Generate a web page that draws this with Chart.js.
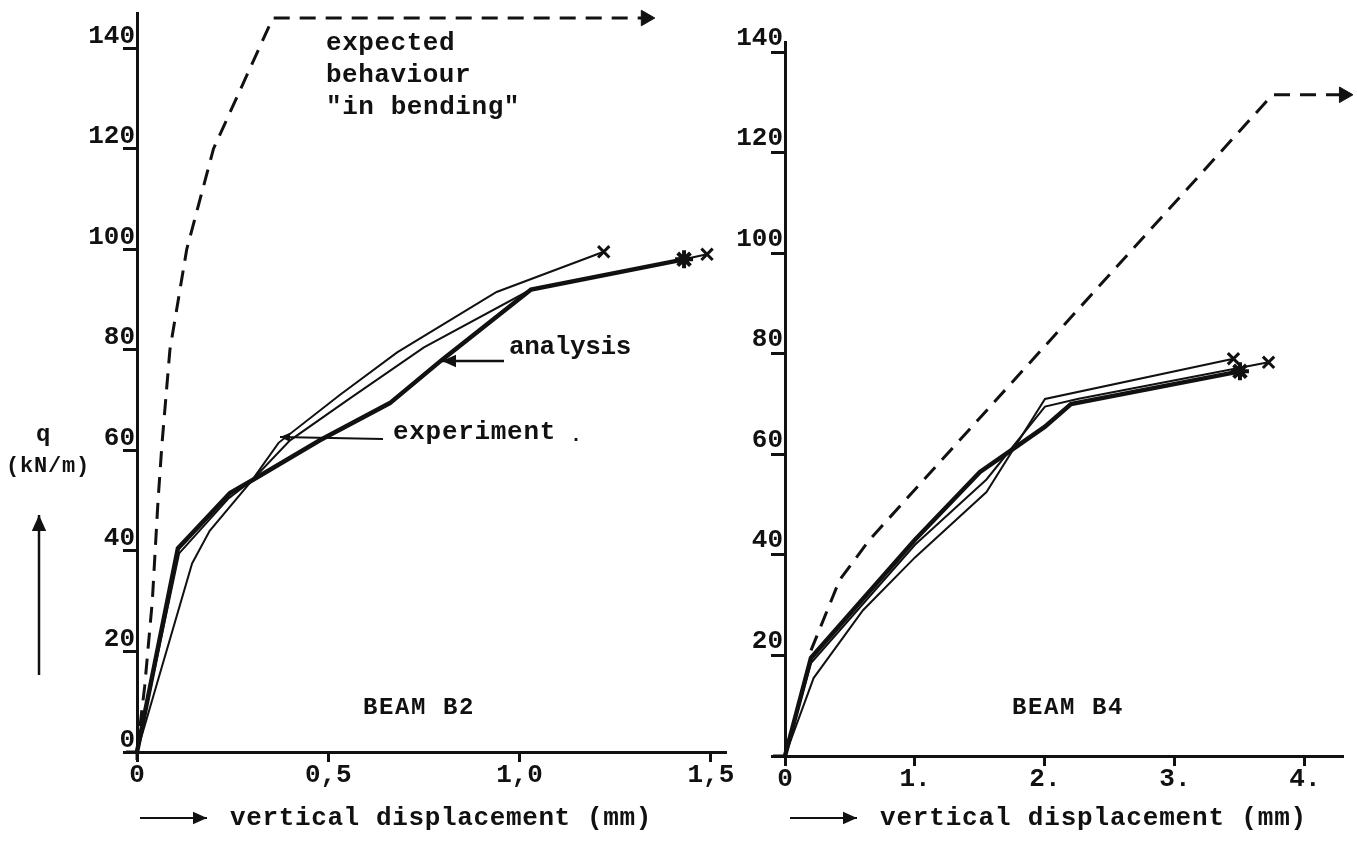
<!DOCTYPE html>
<html>
<head>
<meta charset="utf-8">
<script src="https://cdn.jsdelivr.net/npm/chart.js@4.4.0/dist/chart.umd.min.js"></script>
<style>
  html, body { margin: 0; padding: 0; background: #fff; }
  body { width: 1357px; height: 850px; position: relative; overflow: hidden; }
  canvas { position: absolute; top: 0; }
  #b2 { left: 0; }
  #b4 { left: 700px; }
</style>
</head>
<body>
<canvas id="b2"></canvas>
<canvas id="b4"></canvas>
<script>
// ---- BEAM B2 : q (kN/m) against vertical displacement (mm) ----
const B2_X_TICKS = [0, 0.5, 1.0, 1.5];
const B2_X_LABELS = ['0', '0,5', '1,0', '1,5'];
const B2_Y_TICKS = [0, 20, 40, 60, 80, 100, 120, 140];
const B2_Y_LABELS = ['0', '20', '40', '60', '80', '100', '120', '140'];

const B2_EXPECTED = [[0, 0], [0.02, 13], [0.04, 30], [0.055, 50], [0.065, 61], [0.086, 80],
                     [0.13, 100], [0.2, 120], [0.355, 146], [1.33, 146]];
const B2_EXPERIMENT_1 = [[0, 0], [0.144, 37.5], [0.19, 44], [0.3, 54], [0.37, 61.5], [0.53, 71],
                         [0.68, 79.5], [0.94, 91.5], [1.22, 99.5]];
const B2_EXPERIMENT_2 = [[0, 0], [0.11, 39.5], [0.24, 50.5], [0.3, 54], [0.4, 62], [0.55, 70],
                         [0.75, 80.5], [1.03, 92], [1.43, 98], [1.49, 99]];
const B2_ANALYSIS = [[0, 0], [0.107, 40.5], [0.243, 51.5], [0.3, 54], [0.478, 62], [0.661, 69.4],
                     [0.797, 78], [1.03, 92], [1.43, 98]];

// ---- BEAM B4 ----
const B4_X_TICKS = [0, 1, 2, 3, 4];
const B4_X_LABELS = ['0', '1.', '2.', '3.', '4.'];
const B4_Y_TICKS = [0, 20, 40, 60, 80, 100, 120, 140];
const B4_Y_LABELS = ['', '20', '40', '60', '80', '100', '120', '140'];

const B4_EXPECTED = [[0.2, 21], [0.42, 35], [0.65, 43], [3.75, 131.5], [4.3, 131.5]];
const B4_EXPERIMENT_1 = [[0, 0], [0.22, 15.5], [0.6, 29], [1.0, 39.5], [1.55, 52.5], [2.0, 71], [3.45, 79]];
const B4_EXPERIMENT_2 = [[0, 0], [0.2, 18.5], [1.0, 42], [1.55, 55], [2.0, 69.5], [2.25, 71], [3.72, 78.3]];
const B4_ANALYSIS = [[0, 0], [0.2, 19.5], [1.0, 43], [1.5, 56.5], [1.75, 61], [2.0, 65.5], [2.2, 70], [3.5, 76.5]];

const FONT = "'Liberation Mono', 'Courier New', monospace";
const INK = '#111';

// Build a line dataset; only the last point gets a marker
function series(pts, width, opts = {}) {
    const last = pts.length - 1;
    return {
        data: pts.map(([x, y]) => ({ x, y })),
        borderColor: INK,
        backgroundColor: INK,
        borderWidth: width,
        borderDash: opts.dash || [],
        pointStyle: opts.marker || 'circle',
        pointRadius: pts.map((_, i) => (opts.marker && i === last ? opts.size || 8 : 0)),
        pointBorderWidth: opts.markerWidth || 2.5,
        pointRotation: opts.rotation || 0,
        tension: 0,
        fill: false,
        clip: false
    };
}

// Free text, pointer arrows and axis stubs drawn on top of each chart
function drawNotes(ctx, notes) {
    ctx.save();
    ctx.fillStyle = INK;
    ctx.strokeStyle = INK;
    notes.forEach(n => {
        if (n.text) {
            ctx.font = `bold ${n.size || 26}px ${FONT}`;
            ctx.textBaseline = 'middle';
            ctx.textAlign = 'left';
            ctx.letterSpacing = '0px';
            if (n.w) {
                const natural = ctx.measureText(n.text).width;
                ctx.letterSpacing = ((n.w - natural) / n.text.length) + 'px';
            }
            let x = n.x;
            if (n.center) x = n.x - n.w / 2;
            ctx.fillText(n.text, x, n.y);
        } else if (n.line || n.arrow) {
            const [x1, y1, x2, y2] = n.line || n.arrow;
            ctx.lineWidth = n.lw || 2;
            ctx.beginPath();
            ctx.moveTo(x1, y1);
            ctx.lineTo(x2, y2);
            ctx.stroke();
            if (!n.arrow) return;
            const a = Math.atan2(y2 - y1, x2 - x1);
            const L = n.head || 12, W = L * 0.45;
            ctx.beginPath();
            ctx.moveTo(x2, y2);
            ctx.lineTo(x2 - L * Math.cos(a) + W * Math.sin(a), y2 - L * Math.sin(a) - W * Math.cos(a));
            ctx.lineTo(x2 - L * Math.cos(a) - W * Math.sin(a), y2 - L * Math.sin(a) + W * Math.cos(a));
            ctx.closePath();
            ctx.fill();
        }
    });
    ctx.restore();
}

function axis(ticks, labels, cfg) {
    return {
        type: 'linear',
        position: cfg.position,
        min: 0,
        max: cfg.max,
        afterBuildTicks: s => { s.ticks = ticks.map(v => ({ value: v })); },
        afterFit: cfg.fit,
        border: { display: true, color: INK, width: 3 },
        grid: {
            display: true, drawOnChartArea: false, drawTicks: true,
            tickLength: cfg.tickLength, color: INK, lineWidth: 3
        },
        ticks: {
            autoSkip: false, maxRotation: 0, color: INK,
            padding: cfg.padding, labelOffset: cfg.labelOffset || 0,
            font: { family: FONT, size: 26, weight: 'bold' },
            callback: v => {
                const i = ticks.indexOf(v);
                return i >= 0 ? labels[i] : '';
            }
        }
    };
}

function makeChart(id, cfg) {
    const canvas = document.getElementById(id);
    canvas.width = cfg.width;
    canvas.height = cfg.height;
    return new Chart(canvas, {
        type: 'line',
        data: { datasets: cfg.datasets },
        options: {
            responsive: false,
            animation: false,
            devicePixelRatio: 1,
            layout: { padding: { top: cfg.padTop, right: cfg.padRight, left: 0, bottom: 0 } },
            plugins: { legend: { display: false }, tooltip: { enabled: false } },
            scales: {
                x: axis(cfg.xTicks, cfg.xLabels, {
                    position: 'bottom', max: cfg.xMax, tickLength: 10, padding: -2,
                    fit: s => { s.height = cfg.height - cfg.axisBottom; }
                }),
                y: axis(cfg.yTicks, cfg.yLabels, {
                    position: 'left', max: cfg.yMax, tickLength: 14, padding: -12,
                    labelOffset: cfg.yLabelOffset,
                    fit: s => { s.width = cfg.axisLeft; }
                })
            }
        },
        plugins: [{ id: 'notes', afterDraw: c => drawNotes(c.ctx, cfg.notes) }]
    });
}

makeChart('b2', {
    width: 740, height: 850, axisLeft: 137, axisBottom: 752, padTop: 12.8, padRight: 15,
    xMax: 1.537, yMax: 147, yLabelOffset: -12,
    xTicks: B2_X_TICKS, xLabels: B2_X_LABELS, yTicks: B2_Y_TICKS, yLabels: B2_Y_LABELS,
    datasets: [
        series(B2_EXPECTED, 3, { dash: [16, 10], marker: 'triangle', size: 9, rotation: 90, markerWidth: 1 }),
        series(B2_EXPERIMENT_1, 2, { marker: 'crossRot', size: 8, markerWidth: 3 }),
        series(B2_EXPERIMENT_2, 2, { marker: 'crossRot', size: 8, markerWidth: 3 }),
        series(B2_ANALYSIS, 4.5, { marker: 'star', size: 9, markerWidth: 4 })
    ],
    notes: [
        { line: [126, 752, 137, 752], lw: 3 },
        { line: [137, 752, 137, 760], lw: 3 },
        { text: 'q', x: 44, y: 435, w: 16, center: true, size: 24 },
        { text: '(kN/m)', x: 48, y: 466, w: 84, center: true, size: 22 },
        { arrow: [39, 675, 39, 515], lw: 2.5, head: 16 },
        { text: 'expected', x: 326, y: 43, w: 129 },
        { text: 'behaviour', x: 326, y: 75, w: 145 },
        { text: '"in bending"', x: 326, y: 107, w: 194 },
        { text: 'analysis', x: 509, y: 347, w: 122 },
        { arrow: [504, 361, 442, 361], lw: 2.5, head: 14 },
        { text: 'experiment', x: 393, y: 432, w: 163 },
        { arrow: [383, 439, 280, 437], lw: 2, head: 10 },
        { text: '.', x: 570, y: 436, size: 20 },
        { text: 'BEAM B2', x: 363, y: 708, w: 112, size: 24 },
        { arrow: [140, 818, 207, 818], lw: 2, head: 14 },
        { text: 'vertical displacement (mm)', x: 230, y: 818, w: 422 }
    ]
});

makeChart('b4', {
    width: 657, height: 850, axisLeft: 85, axisBottom: 756, padTop: 42, padRight: 15,
    xMax: 4.285, yMax: 142, yLabelOffset: -14,
    xTicks: B4_X_TICKS, xLabels: B4_X_LABELS, yTicks: B4_Y_TICKS, yLabels: B4_Y_LABELS,
    datasets: [
        series(B4_EXPECTED, 3, { dash: [16, 10], marker: 'triangle', size: 9, rotation: 90, markerWidth: 1 }),
        series(B4_EXPERIMENT_1, 2, { marker: 'crossRot', size: 8, markerWidth: 3 }),
        series(B4_EXPERIMENT_2, 2, { marker: 'crossRot', size: 8, markerWidth: 3 }),
        series(B4_ANALYSIS, 4.5, { marker: 'star', size: 9, markerWidth: 4 })
    ],
    notes: [
        { line: [73, 756, 85, 756], lw: 3 },
        { text: 'BEAM B4', x: 312, y: 708, w: 112, size: 24 },
        { arrow: [90, 818, 157, 818], lw: 2, head: 14 },
        { text: 'vertical displacement (mm)', x: 180, y: 818, w: 427 }
    ]
});
</script>
</body>
</html>
